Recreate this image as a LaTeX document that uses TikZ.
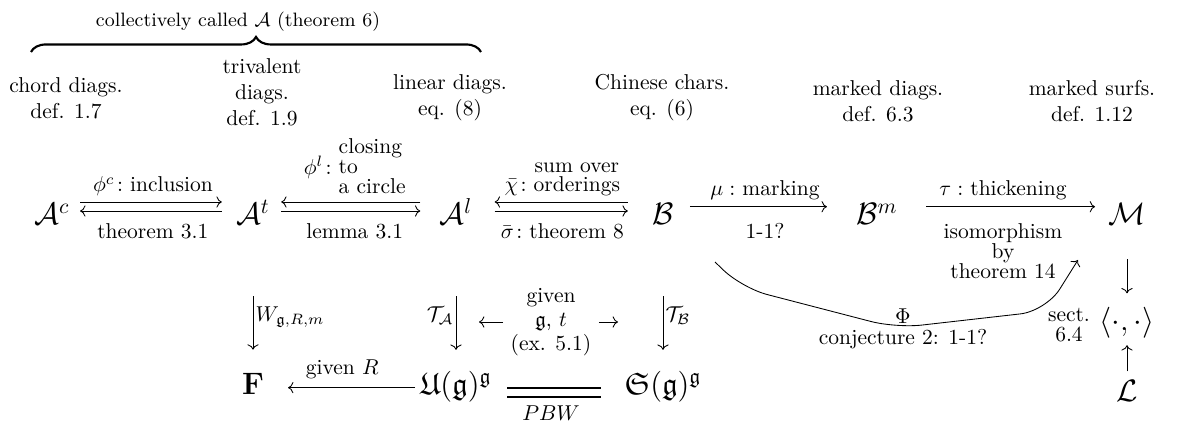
\documentclass[tikz,border=0pt]{standalone}
\usepackage{amsmath,amssymb}
\usepackage{tikz}
\usetikzlibrary{arrows.meta}
\usetikzlibrary{decorations.pathreplacing}

\begin{document}
\begin{tikzpicture}[x=0.465pt,y=-0.465pt,
		obj/.style={font=\Large,inner sep=0pt},
		cmar/.style={-{Computer Modern Rightarrow}},
		lbl/.style={inner sep=1pt},
		eqline/.style={line width=1.2pt}]
		\useasboundingbox (0,0) rectangle (1180,424);
		
		% Brace over the three diagram spaces
		\draw[line width=1pt,decorate,decoration={brace,amplitude=7pt}] (31,52) -- (481,52);
		\node[font=\small] (coll) at (238,22) {collectively called $\mathcal{A}$ (theorem 6)};
		
		% What each space is made of
		\node[align=center] (hchord) at (66,98) {chord diags.\\def. 1.7};
		\node[align=center] (htriv) at (262,92) {trivalent\\diags.\\def. 1.9};
		\node[align=center] (hlin) at (450,98) {linear diags.\\eq. (8)};
		\node[align=center] (hchin) at (662,98) {Chinese chars.\\eq. (6)};
		\node[align=center] (hmd) at (878,101) {marked diags.\\def. 6.3};
		\node[align=center] (hms) at (1092,101) {marked surfs.\\def. 1.12};
		
		% Top row
		\node[obj,anchor=base] (Ac) at (52,225) {$\mathcal{A}^c$};
		\node[obj,anchor=base] (At) at (253,225) {$\mathcal{A}^t$};
		\node[obj,anchor=base] (Al) at (456,225) {$\mathcal{A}^l$};
		\node[obj,anchor=base] (B) at (663,225) {$\mathcal{B}$};
		\node[obj,anchor=base] (Bm) at (877,225) {$\mathcal{B}^m$};
		\node[obj,anchor=base] (M) at (1127,225) {$\mathcal{M}$};
		
		% Arrows of the top row
		\draw[cmar,shorten <=4.7pt,shorten >=6.5pt] ([yshift=10.7pt]Ac.base east) -- ([yshift=10.7pt]At.base west)
		node[midway,above=1.5pt,lbl] {$\phi^c\colon$inclusion};
		\draw[cmar,shorten <=6.5pt,shorten >=4.7pt] ([yshift=6.5pt]At.base west) -- ([yshift=6.5pt]Ac.base east)
		node[midway,below=4.5pt,lbl] {theorem 3.1};
		\draw[cmar,shorten <=8.8pt,shorten >=5.1pt] ([yshift=10.7pt]Al.base west) -- ([yshift=10.7pt]At.base east)
		node[midway,above=-1pt,lbl] {$\phi^l\colon$\begin{tabular}[c]{@{}l@{}}closing\\[-2.7pt]to\\[-2.7pt]a circle\end{tabular}};
		\draw[cmar,shorten <=5.1pt,shorten >=8.8pt] ([yshift=6.5pt]At.base east) -- ([yshift=6.5pt]Al.base west)
		node[midway,below=4.5pt,lbl] {lemma 3.1};
		\draw[cmar,shorten <=11.2pt,shorten >=10.2pt] ([yshift=10.7pt]B.base west) -- ([yshift=10.7pt]Al.base east)
		node[midway,above=0pt,lbl] {$\bar{\chi}\colon$\begin{tabular}[b]{@{}c@{}}sum over\\[-3pt]orderings\end{tabular}};
		\draw[cmar,shorten <=10.2pt,shorten >=11.2pt] ([yshift=6.5pt]Al.base east) -- ([yshift=6.5pt]B.base west)
		node[midway,below=4.5pt,lbl] {$\bar{\sigma}\colon$theorem 8};
		\draw[cmar,shorten <=7.4pt,shorten >=13.5pt] ([yshift=8.5pt]B.base east) -- ([yshift=8.5pt]Bm.base west)
		node[midway,above=2pt,lbl] {$\mu:$ marking}
		node[midway,below=6.5pt,lbl] {1-1?};
		\draw[cmar,shorten <=13pt,shorten >=6pt] ([yshift=8.5pt]Bm.base east) -- ([yshift=8.5pt]M.base west)
		node[midway,above=2pt,lbl] {$\tau:$ thickening}
		node[midway,below=6.5pt,lbl,align=center] {isomorphism\\[-2.7pt]by\\[-2.7pt]theorem 14};
		
		% Bottom row
		\node[obj,anchor=base] (F) at (253,395) {$\mathbf{F}$};
		\node[obj,anchor=base] (U) at (456,395) {$\mathfrak{U}(\mathfrak{g})^{\mathfrak{g}}$};
		\node[obj,anchor=base] (S) at (663,395) {$\mathfrak{S}(\mathfrak{g})^{\mathfrak{g}}$};
		
		% Down arrows
		\draw[cmar,shorten <=33pt,shorten >=11pt] (At.south) -- (F.north)
		node[pos=0.62,right,lbl] {$W_{\mathfrak{g},R,m}$};
		\draw[cmar,shorten <=33pt,shorten >=10pt] (Al.south) -- (U.north)
		node[pos=0.62,left,lbl] {$\mathcal{T}_{\mathcal{A}}$};
		\draw[cmar,shorten <=33pt,shorten >=10pt] (B.south) -- (S.north)
		node[pos=0.62,right,lbl] {$\mathcal{T}_{\mathcal{B}}$};
		
		% given g, t
		\node[align=center] (gvn) at (551,322) {given\\[-0.8pt]$\mathfrak{g}$, $t$\\[-0.8pt](ex. 5.1)};
		\coordinate (gvnL) at (479,322);
		\coordinate (gvnR) at (618,322);
		\draw[cmar] (gvn.west) -- (gvnL);
		\draw[cmar] (gvn.east) -- (gvnR);
		
		% Bottom arrows
		\draw[cmar,shorten <=2.3pt,shorten >=11pt] ([yshift=3.4pt]U.base west) -- ([yshift=3.4pt]F.base east)
		node[midway,above=3pt,lbl] {given $R$};
		\draw[eqline,shorten <=7pt,shorten >=10.7pt] ([yshift=3.3pt]U.base east) -- ([yshift=3.3pt]S.base west);
		\draw[eqline,shorten <=7pt,shorten >=10.7pt] ([yshift=-0.9pt]U.base east) -- ([yshift=-0.9pt]S.base west);
		\node (pbw) at (551,413) {$PBW$};
		
		% Right column
		\node[obj,anchor=base] (pair) at (1127,331) {$\langle\cdot,\cdot\rangle$};
		\node[obj,anchor=base] (L) at (1127,402) {$\mathcal{L}$};
		\draw[cmar,shorten <=15.8pt,shorten >=6.5pt] (M.south) -- (pair.north);
		\draw[cmar,shorten <=4.2pt,shorten >=2.8pt] (L.north) -- (pair.south);
		\node[align=center] (sect) at (1069,325) {sect.\\[-2.7pt]6.4};
		
		% Phi from B to M
		\coordinate (phiS) at (715,262);
		\coordinate (phiE) at (1078,260);
		\draw[cmar,rounded corners=12pt] (phiS) -- (742,288) -- (896,328) -- (1046,311) -- (phiE);
		\node (phi) at (903,316) {$\Phi$};
		\node (conj) at (903,339) {conjecture 2: 1-1?};
	\end{tikzpicture}
\end{document}
